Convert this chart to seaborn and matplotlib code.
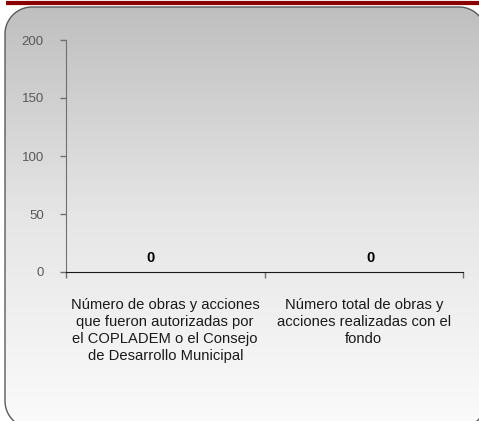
import matplotlib
matplotlib.use("Agg")
import matplotlib.pyplot as plt
from matplotlib.patches import Polygon
import numpy as np
import pandas as pd
import seaborn as sns

# Data
categories = [
    "Número de obras y acciones\nque fueron autorizadas por\nel COPLADEM o el Consejo\nde Desarrollo Municipal",
    "Número total de obras y\nacciones realizadas con el\nfondo",
]
values = [0, 0]
y_ticks = [0, 50, 100, 150, 200]

W, H = 479, 421


def rounded_rect(left, bottom, right, top, r, n=40):
    # polyline outline of a rounded rectangle (avoids bezier clipping artifacts)
    pts = []
    corners = [(right - r, top - r, 0), (left + r, top - r, 90),
               (left + r, bottom + r, 180), (right - r, bottom + r, 270)]
    for cx, cy, a0 in corners:
        t = np.radians(np.linspace(a0, a0 + 90, n))
        pts.extend(zip(cx + r * np.cos(t), cy + r * np.sin(t)))
    return np.array(pts)


fig = plt.figure(figsize=(W / 100, H / 100), dpi=100)
fig.patch.set_facecolor("white")

# Background panel with gradient and rounded corners (pixel coords, y up)
bg = fig.add_axes([0, 0, 1, 1])
bg.set_xlim(0, W)
bg.set_ylim(0, H)
bg.axis("off")
bg.plot([6, W], [H - 3, H - 3], color="#8b0000", lw=3, solid_capstyle="butt")
top, bottom, left, right = H - 7, H - 428, 5, 486
panel = Polygon(rounded_rect(left, bottom, right, top, 27), closed=True,
                facecolor="none", edgecolor="#5a5a5a", lw=1.0, zorder=3)
bg.add_patch(panel)
grad = np.linspace(0, 1, 256).reshape(-1, 1)
cmap = matplotlib.colors.LinearSegmentedColormap.from_list("g", ["#bfbfbf", "#e6e6e6", "#fbfbfb"])
im = bg.imshow(grad, cmap=cmap, extent=[left, right, bottom, top], origin="upper",
               aspect="auto", zorder=1)
im.set_clip_path(panel)

# Chart
ax = fig.add_axes([66 / W, 1 - 272 / H, (463 - 66) / W, (272 - 40) / H])
ax.patch.set_alpha(0)
df = pd.DataFrame({"cat": categories, "val": values})
sns.barplot(data=df, x="cat", y="val", color="#4f81bd", ax=ax, width=0.5)
ax.set_ylim(0, 200)
ax.set_yticks(y_ticks)
ax.set_xlim(-0.5, 1.5)
ax.set_xticks([-0.5, 0.5, 1.5], minor=False)
ax.set_xticklabels([])
ax.set_xlabel("")
ax.set_ylabel("")
for s in ["top", "right"]:
    ax.spines[s].set_visible(False)
ax.spines["left"].set_color("#6f6f6f")
ax.spines["bottom"].set_color("#1a1a1a")
ax.tick_params(axis="y", colors="#6f6f6f", labelcolor="#595959", labelsize=9.5,
               length=4, width=1, pad=12)
ax.tick_params(axis="x", colors="#6f6f6f", length=4, width=1, direction="out")
for lab in ax.get_yticklabels():
    lab.set_fontfamily("Liberation Sans")

# Category labels
for i, c in enumerate(categories):
    ax.text(i, -0.11, c, transform=ax.get_xaxis_transform(), ha="center", va="top",
            fontsize=10.6, family="Liberation Sans", color="#1a1a1a", linespacing=1.28)

# Data labels
offsets = [-15, 7]
for i, v in enumerate(values):
    ax.annotate(f"{v}", (i, v), xytext=(offsets[i] * 0.72, 5), textcoords="offset points",
                ha="center", va="bottom", fontsize=10.5, fontweight="bold", color="black",
                family="Liberation Sans")

fig.savefig("out.png", dpi=100)
